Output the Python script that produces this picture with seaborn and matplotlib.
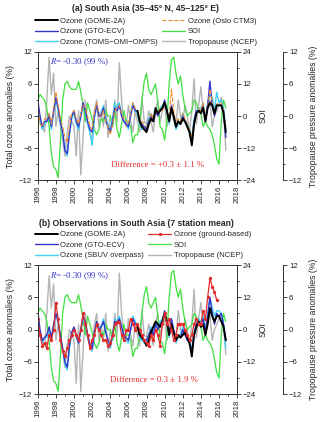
import numpy as np
import matplotlib
matplotlib.use("Agg")
import matplotlib.pyplot as plt
from matplotlib.ticker import MultipleLocator
import seaborn as sns

# ---------------- data (quarterly readings, 1996.00 ... 2016.75) ----------------
dates = np.arange(1996.0, 2017.0, 0.25)          # 84 quarters
dates_gome = np.arange(2007.0, 2017.0, 0.25)     # 40 quarters
dates_ground = np.arange(1996.0, 2016.0, 0.25)   # 80 quarters

soi = [6, 8, 7, 6,   3, -4, -14, -19,   -20, -23, -10, 6,   12, 13, 11, 10,
       10, 10, 13, 9,   4, -2, 5, 2,   -1, -5, -7, -5,   -1, -2, 2, 0,
       0, -4, 2, -5,   -8, -3, 2, -2,   -2, -4, -10, -7,   -7, -2, 6, 13,
       16, 10, 8, 10,   12, 5, -4, -5,   -9, -2, 12, 21,   22, 16, 12, 15,
       8, 3, 0, 1,   2, 6, 5, 2,   1, -4, -2, -4,   -5, -7, -11, -16,
       -18, -2, 6, 3]

tropo_a = [1, -1, -2, -3,   3, 11, 4, 8,   -2, 1, -2, -4.5,   -7.5, -3, 0, -1,
           -2, -7.5, 1, -11,   -4, 3, -1.5, -3,   -4.5, 1, 3, -2,   1, -2, 3, -4,
           0, -2, 3, -1,   10, 3, -1, -2,   2, -1, -3, 1,   -1, -3, 3.5, -1,
           -1.5, 1, -1, -3,   1, 3, -1, 1,   2, -2, 0, 1,   -1, -1.5, 3, 0,
           -1, 2, 0, -3,   1, 7, -1.5, 2,   5.5, 1, 0, 2,   3, -2, 0, 1,
           2, 3.5, 1, -6.4]

tropo_b = [1, -1, -2, -3,   3, 10, 4, 8.5,   -2, 1, -2, -4,   -7, -3, 0, -1,
           -2, -10, 1, -11.5,   -4, 3, -1.5, -3,   -4, 1, 3, -2,   1, -2, 3, -4,
           0, -2, 3, -1,   10.5, 3, -1, -2,   2, -1, -3, 1,   -1, -3, 3.5, -1,
           -1.5, 1, -1, -3,   1, 3, -1, 1,   2, -2, 0, 1,   -1, -1.5, 3.5, 0,
           -1, 2, 0, -3,   1, 7.5, -1.5, 2,   5, 1, 0, 2,   3, -2, 0, 1,
           2, 3, 1, -4.7]

gto_a = [3, 0, -2, -1,   -1, 0, -2, 1,   3.5, 1.5, -1, -3,   -6.5, -7, -3, 0,
         1, -1, -2, 0,   2.5, 1, -1, -2.5,   -3, 0, 2, 0,   0, 1.5, -1, -2,
         -3, -1, 1.5, 1,   2, 0, -1, -1.5,   -2, 0, 2, 1,   1, -1, -1.5, -2,
         -2.5, -1, 0, -1,   1, 0, 1, 1.5,   3, 1, -1, 2,   0, -2, -1, -1.5,
         0, -1, -2, -3,   -5, -1, 1, 1,   1, 2, -1, 2,   6.5, 2, 0, 2,
         2, 2, 1, -4]

toms_a = [2, -1, -2.5, -1.5,   -1, 0.5, -2.5, 0.5,   3, 1, -1.5, -3.5,   -6, -7.5, -3.5, -0.5,
          0.5, -1.5, -2.5, 0,   2, 1, -1.5, -3,   -5.5, -0.5, 2, 0.5,   0.5, 2, -0.5, -1.5,
          -2.5, -0.5, 2.5, 1.5,   2.5, 0.5, -1, -1,   -2.5, 0.5, 2.5, 1,   0.5, -1.5, -2.5, -2,
          -2, -0.5, 0.5, -1,   1.5, 0.5, 1.5, 2,   2.5, 1.5, -1.5, 1.5,   0, -2.5, -1.5, -1,
          0.5, -1, -1.5, -2.5,   -4, -0.5, 1, 1.5,   1.5, 2.5, -0.5, 2.5,   4, 3.5, 1, 4.5,
          2.5, 3, 1.5, -2.5]

oslo_a = [2, -1.5, -2, -0.5,   -0.5, 0.5, -1.5, 1.5,   4.5, 2, -0.5, -2,   -4, -5, -2, 0.5,
          1, -0.5, -1.5, 0.5,   2, 1.5, 0, -2,   -2.5, 0.5, 2.5, 0.5,   0, 1, -1, -2,
          -3.5, -1.5, 1, 1.5,   2, 0.5, -0.5, -1,   -1.5, 0.5, 2.5, 1.5,   1, -0.5, -1, -1.5,
          -2, -1.5, 0.5, -0.5,   1, 0.5, 1.5, 1,   2.5, 1, -0.5, 5,   1, -1.5, -0.5, -1,
          0.5, -0.5, -1.5, -2.5,   -4, -1.5, 0.5, 1.5,   1, 2.5, -0.5, 1.5,   5, 2.5, 0.5, 2.5,
          2, 2.5, 1, -3]

gome_a = [1, -1, -2, -2.5,   -3, -1.5, -0.5, -1,   1.5, 0.5, 1, 1.5,   2.5, 1, -1, 1.5,
          0, -2, -1, -1.5,   -0.5, -1, -2, -3,   -5.5, -1.5, 0.5, 1,   0.5, 1.5, -1, 1.5,
          2.5, 2, 0.5, 2,   2, 2, 0.5, -3]

gto_b = [3.5, 0, -2, -1.5,   -1, 0.5, -1.5, 1,   3, 1.5, -1, -3.5,   -6, -7, -3, -0.5,
         0.5, -1, -2.5, 0,   2.5, 1.5, -1, -2.5,   -3.5, -0.5, 1.5, 0,   0.5, 1.5, -0.5, -2,
         -3, -1, 1.5, 1,   2, 0.5, -1, -1.5,   -2, 0, 2, 1,   1, -1, -1.5, -2,
         -2, -1, 0, -1,   1, 0, 1, 1.5,   3.5, 1, -1, 2,   0, -2, -1, -1.5,
         0, -1, -2, -2.5,   -4, -1, 1, 1.5,   1, 2, -0.5, 2.5,   6, 3, 1, 3,
         2.5, 3, 1, -2]

sbuv_b = [2.5, -1, -2.5, -1.5,   -1.5, 0, -2, 0.5,   3, 1, -1.5, -3.5,   -6.5, -7.5, -3.5, -0.5,
          0, -1.5, -2.5, -0.5,   2, 1, -1.5, -3,   -4, -1, 1.5, 0.5,   0.5, 2, -0.5, -2,
          -3.5, -1, 2, 1.5,   2.5, 0.5, -1.5, -2,   -2.5, 0, 2.5, 1.5,   0.5, -1.5, -2, -2.5,
          -2.5, -1, 0.5, -1,   1.5, 0.5, 1.5, 2,   3, 1.5, -1.5, 2,   0, -2.5, -1.5, -1,
          0.5, -1, -1.5, -2.5,   -3.5, -0.5, 1.5, 2,   1.5, 2.5, 0, 3,   6, 4, 2.5, 3.5,
          3.5, 3, 1, -3.5]

gome_b = [0.5, -1, -1.5, -2,   -3, -2, -0.5, 0.5,   1.5, 1, 0.5, 1.5,   3, 1.5, -1, 1,
          -0.5, -2, -1, -1.5,   -1, -0.5, -1.5, -2.5,   -5, -1, 0.5, 1.5,   0.5, 1, -1, 1,
          4, 2.5, 1.5, 2.5,   2.5, 1.5, 0.5, -2]

ground_b = [2, -1, -3, -2.5,   -3.5, -1, -2, 0,   5, 2, -2, -4,   -5, -3.5, -2, -1,
            0, -1, -2, 0,   3, 1, -1, -3.5,   -2, -1, 1, 0,   -1, -2, -2, -3,
            -2.5, -1, 1, 1.5,   1.5, -1, -2, 0,   0, 2, 1, 0,   1, 0, -1, -2,
            -2.5, -3, -1, -2,   0, -1, -3, 1,   3, 1, 2, 0,   -2, -1, 1, 1,
            1, 0, -1, -2,   -1, 1, 2, 1,   1, 3.5, 2, 6,   9.5, 8, 7, 5.5]

year_ticks = list(range(1996, 2019, 2))

# ---------------- style ----------------
sns.set_theme(style="ticks")
plt.rcParams["font.family"] = ["Liberation Sans", "DejaVu Sans"]
plt.rcParams["mathtext.fontset"] = "stix"
plt.rcParams["axes.linewidth"] = 0.7
plt.rcParams["axes.edgecolor"] = "#333333"

C_BLACK = "#000000"
C_BLUE = "#3434cc"
C_CYAN = "#3fd2f5"
C_ORANGE = "#f28a2e"
C_GREEN = "#3fe03f"
C_GRAY = "#b4b4b4"
C_RED = "#e32b2b"

FS_TICK = 5.6
FS_LAB = 6.3
FS_LEG = 5.5

fig = plt.figure(figsize=(3.2, 4.22), dpi=100)
fig.patch.set_facecolor("white")


def line(ax, x, y, **kw):
    sns.lineplot(x=x, y=y, ax=ax, **kw)
    return ax.lines[-1]


def setup_panel(rect):
    ax = fig.add_axes(rect)
    ax2 = ax.twinx()
    ax3 = ax.twinx()
    ax3.spines["right"].set_position(("axes", 1.231))
    for s in ("left", "top", "bottom"):
        ax3.spines[s].set_visible(False)
    ax.set_zorder(3)
    ax.patch.set_visible(False)
    ax2.set_zorder(2)
    ax3.set_zorder(1)
    return ax, ax2, ax3


def finish_panel(ax, ax2, ax3):
    ax.set_xlim(1996, 2018)
    ax.set_ylim(-12, 12)
    ax2.set_ylim(-24, 24)
    ax3.set_ylim(-12, 12)
    ax.set_xticks(year_ticks)
    ax.xaxis.set_minor_locator(MultipleLocator(1))
    ax.set_yticks([-12, -6, 0, 6, 12])
    ax.yaxis.set_minor_locator(MultipleLocator(3))
    ax2.set_yticks([-24, -12, 0, 12, 24])
    ax2.yaxis.set_minor_locator(MultipleLocator(6))
    ax3.set_yticks([-12, -6, 0, 6, 12])
    ax3.yaxis.set_minor_locator(MultipleLocator(3))
    ax.set_xticklabels([str(y) for y in year_ticks], rotation=90)
    for a in (ax, ax2, ax3):
        a.tick_params(which="both", direction="out", labelsize=FS_TICK,
                      width=0.6, pad=1.5, colors="#222222")
        a.tick_params(which="major", length=2.6)
        a.tick_params(which="minor", length=1.6)
        a.set_xlabel("")
        if a.get_legend() is not None:
            a.get_legend().remove()
    ax.tick_params(axis="x", which="both", top=False)
    ax.set_ylabel("Total ozone anomalies (%)", fontsize=FS_LAB, labelpad=3)
    ax2.set_ylabel("SOI", fontsize=FS_LAB, labelpad=2)
    ax3.set_ylabel("Tropopause pressure anomalies (%)", fontsize=FS_LAB, labelpad=5)


# ---------------- panel (a) ----------------
ax, ax2, ax3 = setup_panel([0.118, 0.573, 0.623, 0.304])
h_tro = line(ax3, dates, tropo_a, color=C_GRAY, lw=1.0)
h_soi = line(ax2, dates, soi, color=C_GREEN, lw=0.9)
h_toms = line(ax, dates, toms_a, color=C_CYAN, lw=1.0)
h_gto = line(ax, dates, gto_a, color=C_BLUE, lw=1.0)
h_oslo = line(ax, dates, oslo_a, color=C_ORANGE, lw=0.8, linestyle="--")
h_gome = line(ax, dates_gome, gome_a, color=C_BLACK, lw=1.4)
finish_panel(ax, ax2, ax3)
ax.text(0.062, 0.92, r"$R$= -0.30 (99 %)", transform=ax.transAxes, ha="left",
        va="center", fontsize=6.4, color=C_BLUE, family="Liberation Serif")
ax.text(0.60, 0.117, "Difference = +0.3 ± 1.1 %", transform=ax.transAxes, ha="center",
        va="center", fontsize=6.3, color=C_RED, family="Liberation Serif")
handles = [h_gome, h_gto, h_toms, h_oslo, h_soi, h_tro]
labels = ["Ozone (GOME-2A)", "Ozone (GTO-ECV)", "Ozone (TOMS\u2212OMI\u2212OMPS)",
          "Ozone (Oslo CTM3)", "SOI", "Tropopause (NCEP)"]
fig.legend(handles, labels, ncol=2, loc="upper left", bbox_to_anchor=(0.109, 0.959),
           frameon=False, fontsize=FS_LEG, handlelength=3.0, handletextpad=0.3,
           columnspacing=0.6, labelspacing=0.42, borderpad=0, borderaxespad=0)
fig.text(0.453, 0.979, "(a) South Asia (35\u201345\u00b0 N, 45\u2013125\u00b0 E)",
         ha="center", va="center", fontsize=6.2, fontweight="bold")

# ---------------- panel (b) ----------------
ax, ax2, ax3 = setup_panel([0.118, 0.066, 0.623, 0.306])
h_tro = line(ax3, dates, tropo_b, color=C_GRAY, lw=1.0)
h_soi = line(ax2, dates, soi, color=C_GREEN, lw=0.9)
h_sbuv = line(ax, dates, sbuv_b, color=C_CYAN, lw=1.0)
h_gto = line(ax, dates, gto_b, color=C_BLUE, lw=1.0)
h_gome = line(ax, dates_gome, gome_b, color=C_BLACK, lw=1.4)
h_gr = line(ax, dates_ground, ground_b, color=C_RED, lw=0.9, marker="o",
            markersize=2.4, markeredgewidth=0)
finish_panel(ax, ax2, ax3)
ax.text(0.062, 0.915, r"$R$= -0.30 (99 %)", transform=ax.transAxes, ha="left",
        va="center", fontsize=6.4, color=C_BLUE, family="Liberation Serif")
ax.text(0.585, 0.11, "Difference = 0.3 ± 1.9 %", transform=ax.transAxes, ha="center",
        va="center", fontsize=6.3, color=C_RED, family="Liberation Serif")
handles = [h_gome, h_gto, h_sbuv, h_gr, h_soi, h_tro]
labels = ["Ozone (GOME-2A)", "Ozone (GTO-ECV)", "Ozone (SBUV overpass)",
          "Ozone (ground-based)", "SOI", "Tropopause (NCEP)"]
fig.legend(handles, labels, ncol=2, loc="upper left", bbox_to_anchor=(0.109, 0.453),
           frameon=False, fontsize=FS_LEG, handlelength=3.0, handletextpad=0.3,
           columnspacing=0.6, labelspacing=0.42, borderpad=0, borderaxespad=0,
           numpoints=1)
fig.text(0.425, 0.470, "(b) Observations in South Asia (7 station mean)",
         ha="center", va="center", fontsize=6.2, fontweight="bold")

fig.savefig("out.png", dpi=100, facecolor="white")
